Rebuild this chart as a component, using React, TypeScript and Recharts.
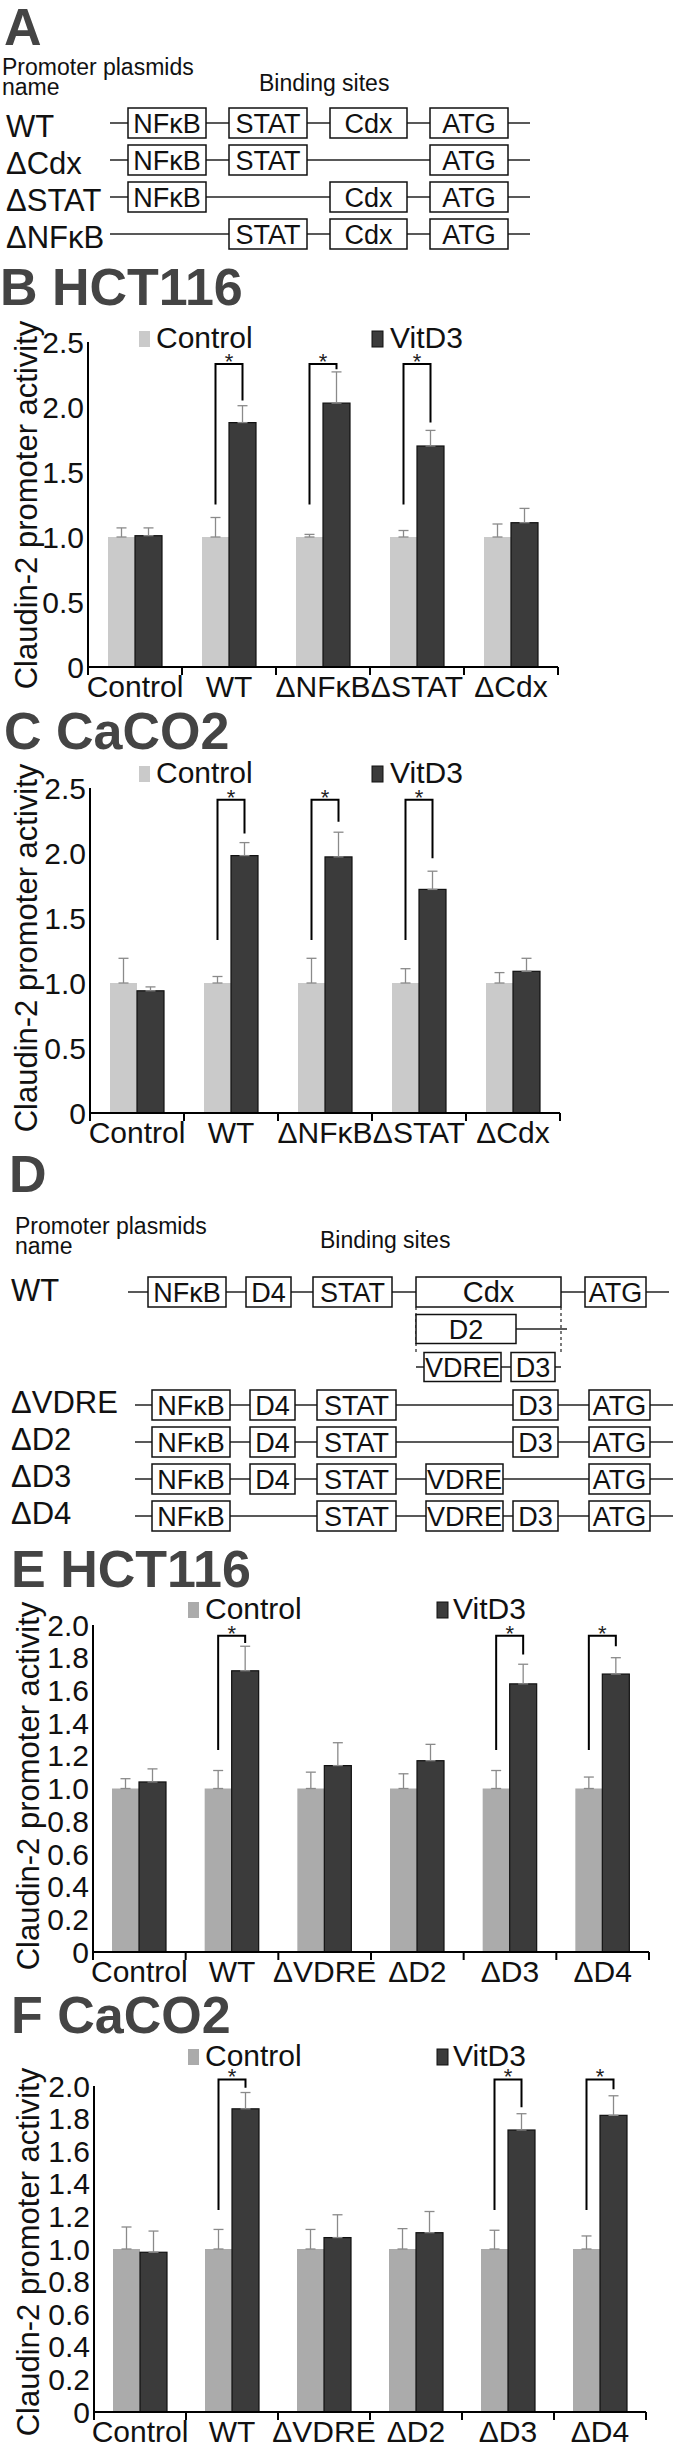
import React from "react";
import { BarChart, Bar, XAxis, YAxis, ErrorBar } from "recharts";

const FONT = "'Liberation Sans', Arial, Helvetica, sans-serif";

// ---- panel B (HCT116, deletion of binding sites)
const catsB = ["Control", "WT", "ΔNFκB", "ΔSTAT", "ΔCdx"];
const ctrlB = [1, 1, 1, 1, 1];
const ctrlErrB = [0.07, 0.15, 0.02, 0.05, 0.1];
const vitB = [1.01, 1.88, 2.03, 1.7, 1.11];
const vitErrB = [0.06, 0.13, 0.24, 0.12, 0.11];
const sigTopB = [null, 2.33, 2.33, 2.33, null];
const sigLeftB = [null, 1.25, 1.25, 1.25, null];
const sigRightB = [null, 2.05, 2.29, 1.88, null];

// ---- panel C (CaCO2)
const catsC = ["Control", "WT", "ΔNFκB", "ΔSTAT", "ΔCdx"];
const ctrlC = [1, 1, 1, 1, 1];
const ctrlErrC = [0.19, 0.05, 0.19, 0.11, 0.08];
const vitC = [0.94, 1.98, 1.97, 1.72, 1.09];
const vitErrC = [0.03, 0.1, 0.19, 0.14, 0.1];
const sigTopC = [null, 2.41, 2.41, 2.41, null];
const sigLeftC = [null, 1.33, 1.33, 1.33, null];
const sigRightC = [null, 2.15, 2.24, 1.96, null];

// ---- panel E (HCT116, Cdx sub-deletions)
const catsE = ["Control", "WT", "ΔVDRE", "ΔD2", "ΔD3", "ΔD4"];
const ctrlE = [1, 1, 1, 1, 1, 1];
const ctrlErrE = [0.06, 0.11, 0.1, 0.09, 0.11, 0.07];
const vitE = [1.04, 1.72, 1.14, 1.17, 1.64, 1.7];
const vitErrE = [0.08, 0.15, 0.14, 0.1, 0.12, 0.1];
const sigTopE = [null, 1.935, null, null, 1.935, 1.935];
const sigLeftE = [null, 1.235, null, null, 1.235, 1.235];
const sigRightE = [null, 1.89, null, null, 1.82, 1.87];

// ---- panel F (CaCO2)
const catsF = ["Control", "WT", "ΔVDRE", "ΔD2", "ΔD3", "ΔD4"];
const ctrlF = [1, 1, 1, 1, 1, 1];
const ctrlErrF = [0.135, 0.12, 0.12, 0.125, 0.115, 0.08];
const vitF = [0.98, 1.86, 1.07, 1.1, 1.73, 1.82];
const vitErrF = [0.13, 0.1, 0.14, 0.13, 0.1, 0.12];
const sigTopF = [null, 2.04, null, null, 2.04, 2.04];
const sigLeftF = [null, 1.24, null, null, 1.24, 1.24];
const sigRightF = [null, 1.99, null, null, 1.87, 1.98];

const ticks25 = [0, 0.5, 1, 1.5, 2, 2.5];
const ticks20 = [0, 0.2, 0.4, 0.6, 0.8, 1, 1.2, 1.4, 1.6, 1.8, 2];

// promoter constructs (panel A and D)
const constructsA = [
  { name: "WT", sites: ["NFκB", "STAT", "Cdx", "ATG"] },
  { name: "ΔCdx", sites: ["NFκB", "STAT", "ATG"] },
  { name: "ΔSTAT", sites: ["NFκB", "Cdx", "ATG"] },
  { name: "ΔNFκB", sites: ["STAT", "Cdx", "ATG"] },
];
const constructsD = [
  { name: "ΔVDRE", sites: ["NFκB", "D4", "STAT", "D3", "ATG"] },
  { name: "ΔD2", sites: ["NFκB", "D4", "STAT", "D3", "ATG"] },
  { name: "ΔD3", sites: ["NFκB", "D4", "STAT", "VDRE", "ATG"] },
  { name: "ΔD4", sites: ["NFκB", "STAT", "VDRE", "D3", "ATG"] },
];

const LIGHT_BC = "#cacaca";
const LIGHT_EF = "#ababab";
const DARK = "#3b3b3b";

const slotsA: Record<string, [number, number]> = {
  NFκB: [128, 206],
  STAT: [229, 307],
  Cdx: [330, 407],
  ATG: [430, 508],
};
const slotsD: Record<string, [number, number]> = {
  NFκB: [148, 226],
  D4: [246, 291],
  STAT: [313, 392],
  VDRE: [422, 499],
  D3: [509, 554],
  ATG: [585, 646],
  Cdx: [416, 561],
};

const fmt = (v: number) => (v === 0 ? "0" : v.toFixed(1));

const makeXTick = (n: number, band: number) => (props: any) => {
  const { x, y, index, payload } = props;
  return (
    <g>
      <line x1={x - band / 2} x2={x - band / 2} y1={y} y2={y + 8} stroke="#000" strokeWidth={2} />
      {index === n - 1 && (
        <line x1={x + band / 2} x2={x + band / 2} y1={y} y2={y + 8} stroke="#000" strokeWidth={2} />
      )}
      <text x={x} y={y + 30} textAnchor="middle" fontSize={30} fontFamily={FONT} fill="#111">
        {payload.value}
      </text>
    </g>
  );
};

// dark bar + significance bracket over the pair
const DarkBar = (props: any) => {
  const { x, y, width, height, payload, fill } = props;
  const parts: React.ReactNode[] = [
    <rect key="r" x={x} y={y} width={width} height={height} fill={fill} stroke="#111" strokeWidth={1.2} />,
  ];
  if (payload.sigTop != null && height > 0) {
    const unit = height / payload.vit;
    const base = y + height;
    const yOf = (v: number) => base - v * unit;
    const lx = x - width / 2;
    const rx = x + width / 2;
    const t = yOf(payload.sigTop);
    parts.push(
      <path
        key="b"
        d={`M${lx},${yOf(payload.sigLeft)} L${lx},${t} L${rx},${t} L${rx},${yOf(payload.sigRight)}`}
        fill="none"
        stroke="#000"
        strokeWidth={2}
      />,
      <text key="s" x={x} y={t + 5} textAnchor="middle" fontSize={22} fontFamily={FONT} fill="#222">
        *
      </text>
    );
  }
  return <g>{parts}</g>;
};

type PanelProps = {
  top: number;
  left: number;
  right: number;
  plotTop: number;
  plotBottom: number;
  cats: string[];
  ctrl: number[];
  ctrlErr: number[];
  vit: number[];
  vitErr: number[];
  sigTop: (number | null)[];
  sigLeft: (number | null)[];
  sigRight: (number | null)[];
  yMax: number;
  yTicks: number[];
  light: string;
};

function Panel(p: PanelProps) {
  const data = p.cats.map((c, i) => ({
    cat: c,
    ctrl: p.ctrl[i],
    ctrlErr: [0, p.ctrlErr[i]],
    vit: p.vit[i],
    vitErr: [0, p.vitErr[i]],
    sigTop: p.sigTop[i],
    sigLeft: p.sigLeft[i],
    sigRight: p.sigRight[i],
  }));
  const band = (p.right - p.left) / p.cats.length;
  const xAxisH = 42;
  const h = p.plotBottom - p.top + xAxisH;
  return (
    <div style={{ position: "absolute", left: 0, top: p.top }}>
      <BarChart
        width={675}
        height={h}
        data={data}
        barGap={0}
        margin={{ top: p.plotTop - p.top, right: 675 - p.right, left: 0, bottom: 0 }}
        style={{ overflow: "visible" }}
      >
        <XAxis
          dataKey="cat"
          height={xAxisH}
          interval={0}
          tickLine={false}
          tickSize={0}
          tickMargin={0}
          axisLine={{ stroke: "#000", strokeWidth: 2 }}
          tick={makeXTick(p.cats.length, band)}
        />
        <YAxis
          width={p.left}
          domain={[0, p.yMax]}
          ticks={p.yTicks}
          interval={0}
          tickFormatter={fmt}
          tickLine={false}
          tickSize={0}
          tickMargin={4}
          axisLine={{ stroke: "#000", strokeWidth: 2 }}
          tick={{ fontSize: 30, fill: "#111", fontFamily: FONT }}
        />
        <Bar dataKey="ctrl" fill={p.light} barSize={27} isAnimationActive={false}>
          <ErrorBar dataKey="ctrlErr" width={5} stroke="#8a8a8a" strokeWidth={1.3} direction="y" isAnimationActive={false} />
        </Bar>
        <Bar dataKey="vit" fill={DARK} barSize={27} shape={DarkBar} isAnimationActive={false}>
          <ErrorBar dataKey="vitErr" width={5} stroke="#8a8a8a" strokeWidth={1.3} direction="y" isAnimationActive={false} />
        </Bar>
      </BarChart>
    </div>
  );
}

function Legend({ y, sqL, txL, sqD, txD, light }: any) {
  return (
    <g fontFamily={FONT} fontSize={30} fill="#111">
      <rect x={sqL} y={y - 17} width={11} height={16} fill={light} />
      <text x={txL} y={y}>Control</text>
      <rect x={sqD} y={y - 17} width={11} height={16} fill={DARK} stroke="#111" />
      <text x={txD} y={y}>VitD3</text>
    </g>
  );
}

function YLabel({ cx, cy }: { cx: number; cy: number }) {
  return (
    <text
      x={cx}
      y={cy}
      transform={`rotate(-90 ${cx} ${cy})`}
      textAnchor="middle"
      dominantBaseline="central"
      fontSize={31}
      fontFamily={FONT}
      fill="#111"
    >
      Claudin-2 promoter activity
    </text>
  );
}

function Title({ x, y, children }: any) {
  return (
    <text x={x} y={y} fontSize={52} fontWeight="bold" fontFamily={FONT} fill="#444">
      {children}
    </text>
  );
}

function Box({ x1, x2, cy, label, h = 30, fs = 27 }: any) {
  return (
    <g>
      <rect x={x1} y={cy - h / 2} width={x2 - x1} height={h} fill="#fff" stroke="#111" strokeWidth={1.5} />
      <text x={(x1 + x2) / 2} y={cy + fs * 0.36} textAnchor="middle" fontSize={fs} fontFamily={FONT} fill="#111">
        {label}
      </text>
    </g>
  );
}

function DiagramA() {
  return (
    <g>
      <Title x={4} y={45}>A</Title>
      <text x={2} y={75} fontSize={23} fontFamily={FONT} fill="#111">Promoter plasmids</text>
      <text x={2} y={95} fontSize={23} fontFamily={FONT} fill="#111">name</text>
      <text x={259} y={91} fontSize={23} fontFamily={FONT} fill="#111">Binding sites</text>
      {constructsA.map((c, i) => {
        const cy = 123 + i * 37;
        return (
          <g key={c.name}>
            <text x={6} y={cy + 14} fontSize={31} fontFamily={FONT} fill="#111">{c.name}</text>
            <line x1={110} x2={530} y1={cy} y2={cy} stroke="#222" strokeWidth={1.5} />
            {c.sites.map((s) => (
              <Box key={s} x1={slotsA[s][0]} x2={slotsA[s][1]} cy={cy} label={s} />
            ))}
          </g>
        );
      })}
    </g>
  );
}

function DiagramD() {
  const wy = 1292;
  const wt = ["NFκB", "D4", "STAT", "Cdx", "ATG"];
  return (
    <g>
      <Title x={9} y={1192}>D</Title>
      <text x={15} y={1234} fontSize={23} fontFamily={FONT} fill="#111">Promoter plasmids</text>
      <text x={15} y={1254} fontSize={23} fontFamily={FONT} fill="#111">name</text>
      <text x={320} y={1248} fontSize={23} fontFamily={FONT} fill="#111">Binding sites</text>
      {/* WT with Cdx sub-structure */}
      <text x={11} y={wy + 9} fontSize={31} fontFamily={FONT} fill="#111">WT</text>
      <line x1={128} x2={669} y1={wy} y2={wy} stroke="#222" strokeWidth={1.5} />
      {wt.map((s) => (
        <Box key={s} x1={slotsD[s][0]} x2={slotsD[s][1]} cy={wy} label={s} fs={s === "Cdx" ? 29 : 27} />
      ))}
      <line x1={416} x2={416} y1={wy + 15} y2={1352} stroke="#222" strokeWidth={1.2} strokeDasharray="3 3" />
      <line x1={561} x2={561} y1={wy + 15} y2={1352} stroke="#222" strokeWidth={1.2} strokeDasharray="3 3" />
      <line x1={516} x2={567} y1={1329} y2={1329} stroke="#222" strokeWidth={1.5} />
      <Box x1={416} x2={516} cy={1329} label="D2" h={29} />
      <line x1={416} x2={561} y1={1367} y2={1367} stroke="#222" strokeWidth={1.5} />
      <Box x1={424} x2={501} cy={1367} label="VDRE" h={29} />
      <Box x1={511} x2={555} cy={1367} label="D3" h={29} />
      {constructsD.map((c, i) => {
        const cy = 1405 + i * 37;
        const sh = 4;
        return (
          <g key={c.name}>
            <text x={11} y={cy + 8} fontSize={31} fontFamily={FONT} fill="#111">{c.name}</text>
            <line x1={131 + sh} x2={669 + sh} y1={cy} y2={cy} stroke="#222" strokeWidth={1.5} />
            {c.sites.map((s) => (
              <Box key={s} x1={slotsD[s][0] + sh} x2={slotsD[s][1] + sh} cy={cy} label={s} />
            ))}
          </g>
        );
      })}
    </g>
  );
}

export default function App() {
  return (
    <div style={{ position: "relative", width: 675, height: 2454, background: "#fff", fontFamily: FONT, overflow: "hidden" }}>
      <style>{"body{margin:0}"}</style>
      <svg width={675} height={2454} style={{ position: "absolute", left: 0, top: 0 }}>
        <DiagramA />
        <Title x={0} y={305}>B HCT116</Title>
        <Legend y={348} sqL={139} txL={156} sqD={372} txD={390} light={LIGHT_BC} />
        <YLabel cx={26} cy={505} />
        <Title x={4} y={749}>C CaCO2</Title>
        <Legend y={783} sqL={139} txL={156} sqD={372} txD={390} light={LIGHT_BC} />
        <YLabel cx={26} cy={948} />
        <DiagramD />
        <Title x={11} y={1587}>E HCT116</Title>
        <Legend y={1619} sqL={188} txL={205} sqD={437} txD={453} light={LIGHT_EF} />
        <YLabel cx={28} cy={1786} />
        <Title x={11} y={2033}>F CaCO2</Title>
        <Legend y={2066} sqL={188} txL={205} sqD={437} txD={453} light={LIGHT_EF} />
        <YLabel cx={28} cy={2252} />
      </svg>
      <Panel
        top={310} left={88} right={558} plotTop={342} plotBottom={667}
        cats={catsB} ctrl={ctrlB} ctrlErr={ctrlErrB} vit={vitB} vitErr={vitErrB}
        sigTop={sigTopB} sigLeft={sigLeftB} sigRight={sigRightB}
        yMax={2.5} yTicks={ticks25} light={LIGHT_BC}
      />
      <Panel
        top={755} left={90} right={560} plotTop={788} plotBottom={1113}
        cats={catsC} ctrl={ctrlC} ctrlErr={ctrlErrC} vit={vitC} vitErr={vitErrC}
        sigTop={sigTopC} sigLeft={sigLeftC} sigRight={sigRightC}
        yMax={2.5} yTicks={ticks25} light={LIGHT_BC}
      />
      <Panel
        top={1590} left={93} right={649} plotTop={1625} plotBottom={1952}
        cats={catsE} ctrl={ctrlE} ctrlErr={ctrlErrE} vit={vitE} vitErr={vitErrE}
        sigTop={sigTopE} sigLeft={sigLeftE} sigRight={sigRightE}
        yMax={2} yTicks={ticks20} light={LIGHT_EF}
      />
      <Panel
        top={2040} left={94} right={646} plotTop={2086} plotBottom={2412}
        cats={catsF} ctrl={ctrlF} ctrlErr={ctrlErrF} vit={vitF} vitErr={vitErrF}
        sigTop={sigTopF} sigLeft={sigLeftF} sigRight={sigRightF}
        yMax={2} yTicks={ticks20} light={LIGHT_EF}
      />
    </div>
  );
}
